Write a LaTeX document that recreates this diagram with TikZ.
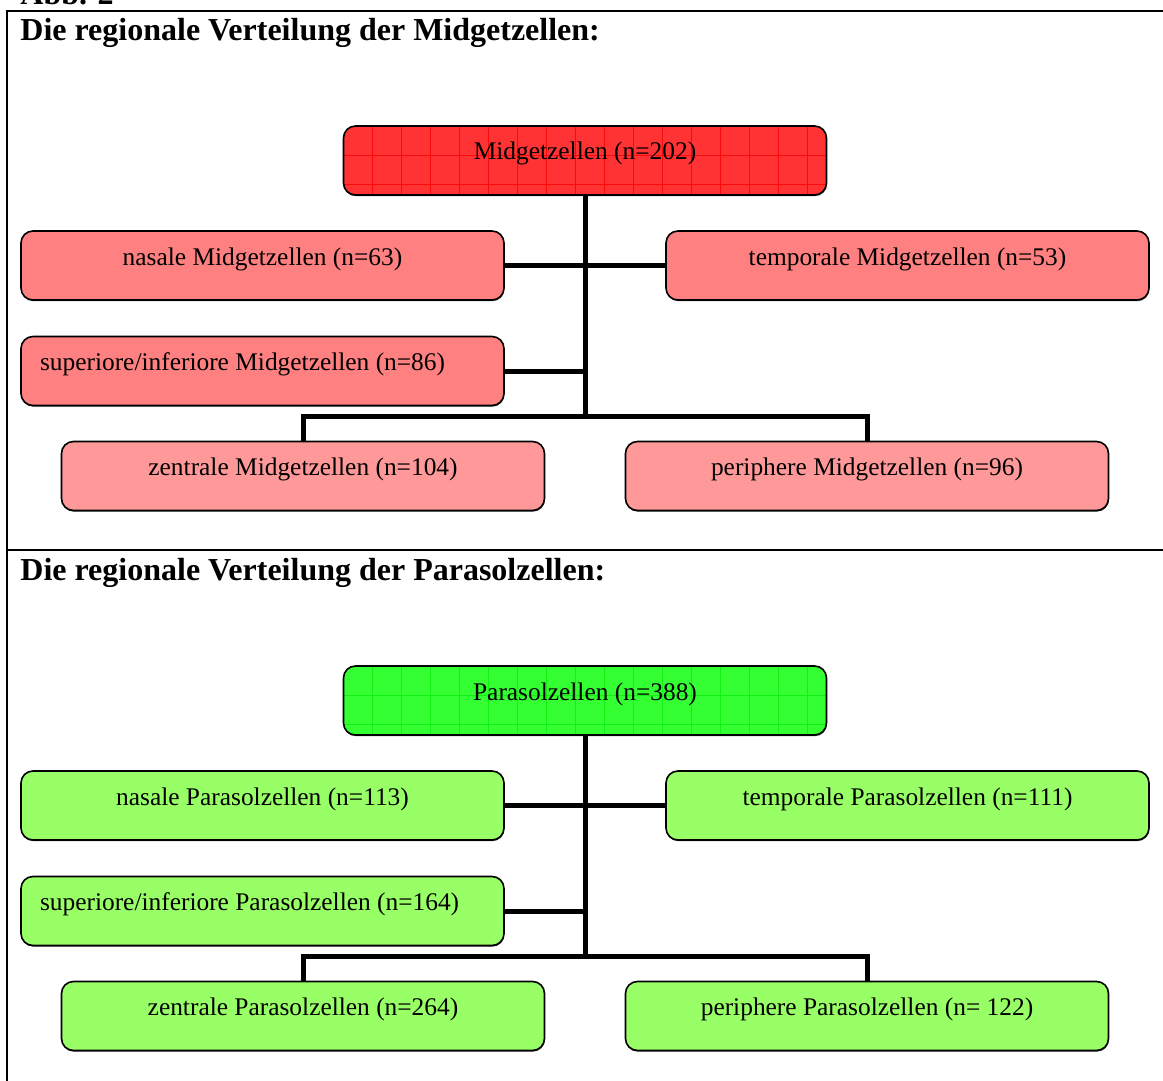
\documentclass[tikz,border=0pt]{standalone}
\usepackage{fontspec}
\setmainfont{Liberation Serif}
\usetikzlibrary{shadows}
\definecolor{redroot}{RGB}{255,51,51}
\definecolor{redmid}{RGB}{255,128,128}
\definecolor{redlow}{RGB}{255,153,153}
\definecolor{greenroot}{RGB}{51,255,51}
\definecolor{greenmid}{RGB}{153,255,102}
\definecolor{gridred}{RGB}{250,10,10}
\definecolor{gridgreen}{RGB}{20,240,20}
\newcommand{\cellgrid}[1]{%
  \foreach \i in {1,...,16}
    \draw[#1, line width=0.4pt] ([xshift=\i*14.5pt]path picture bounding box.north west)
      -- ([xshift=\i*14.5pt]path picture bounding box.south west);
  \foreach \j in {1,2}
    \draw[#1, line width=0.4pt] ([yshift=-\j*14.5pt]path picture bounding box.north west)
      -- ([yshift=-\j*14.5pt]path picture bounding box.north east);}
\tikzset{
  cell/.style={draw=black, line width=0.8pt, rounded corners=6pt,
    minimum width=241.5pt, minimum height=34.5pt, text height=9pt, text depth=9.5pt,
    font=\fontsize{12.7}{15}\selectfont,
    drop shadow={shadow xshift=0.2pt, shadow yshift=-0.6pt, opacity=0.7, fill=black}},
  rootred/.style={cell, fill=redroot, path picture={\cellgrid{gridred}}},
  rootgreen/.style={cell, fill=greenroot, path picture={\cellgrid{gridgreen}}},
  midred/.style={cell, fill=redmid},
  lowred/.style={cell, fill=redlow},
  midgreen/.style={cell, fill=greenmid},
  lowgreen/.style={cell, fill=greenmid},
  leftcell/.style={inner xsep=9.5pt, text width=222.5pt, align=flush left},
  conn/.style={line width=2.5pt, line join=miter},
  frame/.style={line width=1pt},
  head/.style={anchor=base west, inner sep=0pt, font=\fontsize{16}{19}\selectfont\bfseries}
}
\begin{document}
\begin{tikzpicture}[x=0.5pt, y=-0.5pt]
	\useasboundingbox (0,0) rectangle (1163,1081);
	\draw[frame] (1163,11) -- (7,11) -- (7,1081);
	\draw[frame] (7,550) -- (1163,550);
	\node[head] (abb) at (20,5) {Abb. 2};
	\node[head] (mhead) at (20,41) {Die regionale Verteilung der Midgetzellen:};
	\node[head] (phead) at (20,580) {Die regionale Verteilung der Parasolzellen:};

	\node[rootred] (mroot) at (585,160.5) {Midgetzellen (n=202)};
	\node[midred] (mnas) at (262.5,265.5) {nasale Midgetzellen (n=63)};
	\node[midred] (mtemp) at (907.5,265.5) {temporale Midgetzellen (n=53)};
	\node[midred, leftcell] (msup) at (262.5,371) {superiore/inferiore Midgetzellen (n=86)};
	\node[lowred] (mzen) at (303,476) {zentrale Midgetzellen (n=104)};
	\node[lowred] (mper) at (867,476) {periphere Midgetzellen (n=96)};
	\coordinate (mj) at (585,416);
	\draw[conn] (mroot) -- (mj);
	\draw[conn] (mnas) -- (mtemp);
	\draw[conn] (msup) -- (msup.east -| mj);
	\draw[conn] (mzen) |- (mj) -| (mper);

	\node[rootgreen] (proot) at (585,700.5) {Parasolzellen (n=388)};
	\node[midgreen] (pnas) at (262.5,805.5) {nasale Parasolzellen (n=113)};
	\node[midgreen] (ptemp) at (907.5,805.5) {temporale Parasolzellen (n=111)};
	\node[midgreen, leftcell] (psup) at (262.5,911) {superiore/inferiore Parasolzellen (n=164)};
	\node[lowgreen] (pzen) at (303,1016) {zentrale Parasolzellen (n=264)};
	\node[lowgreen] (pper) at (867,1016) {periphere Parasolzellen (n= 122)};
	\coordinate (pj) at (585,956);
	\draw[conn] (proot) -- (pj);
	\draw[conn] (pnas) -- (ptemp);
	\draw[conn] (psup) -- (psup.east -| pj);
	\draw[conn] (pzen) |- (pj) -| (pper);
\end{tikzpicture}
\end{document}
